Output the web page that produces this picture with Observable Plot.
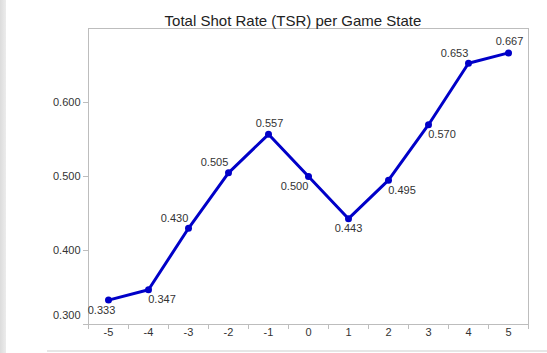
<!DOCTYPE html>
<html>
<head>
<meta charset="utf-8">
<script src="https://cdn.jsdelivr.net/npm/d3@7"></script>
<script src="https://cdn.jsdelivr.net/npm/@observablehq/plot@0.6"></script>
<style>
  html, body { margin: 0; padding: 0; background: #fff; }
  #wrap { position: relative; width: 547px; height: 353px; overflow: hidden; font-family: "Liberation Sans", Arial, sans-serif; }
  #strip { position: absolute; left: 0; top: 0; width: 6px; height: 353px; background: linear-gradient(to right, #dcdcdc, #ececec); }
  #bottomline { position: absolute; left: 47px; top: 350px; width: 500px; height: 2px; background: #e6e6e6; }
  #chart { position: absolute; left: 0; top: 0; }
</style>
</head>
<body>
<div id="wrap"><div id="strip"></div><div id="bottomline"></div><div id="chart"></div></div>
<script>
const title = "Total Shot Rate (TSR) per Game State";
const gameStates = [-5, -4, -3, -2, -1, 0, 1, 2, 3, 4, 5];
const tsr = [0.333, 0.347, 0.430, 0.505, 0.557, 0.500, 0.443, 0.495, 0.570, 0.653, 0.667];
const yTicks = [0.3, 0.4, 0.5, 0.6];
// label placement relative to each point
const labelPlacement = ["bi", "br", "tl", "tl", "t", "bl", "b", "br", "br", "tl", "t"];

const data = gameStates.map((s, i) => ({state: s, tsr: tsr[i], place: labelPlacement[i]}));
const boundaries = [...gameStates.map(s => s - 0.5), gameStates[gameStates.length - 1] + 0.5];

const offsets = {bi: [-7, 10], bl: [-14, 10], br: [13.5, 10], tl: [-14, -10], t: [1, -11], b: [0, 10]};
const lineColor = "#0000c8";
const textColor = "#333";
const gridColor = "#bdbdbd";

const labelMarks = Object.entries(offsets).map(([k, [dx, dy]]) =>
  Plot.text(data, {
    filter: d => d.place === k,
    x: "state", y: "tsr", text: d => d.tsr.toFixed(3),
    dx, dy, fill: textColor, fontSize: 11
  })
);

const chart = Plot.plot({
  width: 547,
  height: 353,
  marginTop: 28,
  marginRight: 19,
  marginBottom: 29,
  marginLeft: 88,
  style: {fontFamily: '"Liberation Sans", Arial, sans-serif', background: "transparent", overflow: "visible"},
  x: {type: "linear", domain: [boundaries[0], boundaries[boundaries.length - 1]], label: null},
  y: {domain: [0.3, 0.7], label: null},
  marks: [
    Plot.frame({stroke: gridColor}),
    Plot.axisX({ticks: boundaries, tickSize: 5, text: null, stroke: gridColor, label: null}),
    Plot.axisX({ticks: gameStates, tickSize: 0, tickPadding: 4, tickFormat: d => String(d), fill: textColor, fontSize: 11, label: null}),
    Plot.axisY({ticks: yTicks, tickSize: 5, text: null, stroke: gridColor, label: null}),
    Plot.axisY({ticks: yTicks.slice(1), tickSize: 0, tickPadding: 8, tickFormat: d3.format(".3f"), fill: textColor, fontSize: 11, label: null}),
    Plot.axisY({ticks: yTicks.slice(0, 1), tickSize: 0, tickPadding: 8, dy: -9, tickFormat: d3.format(".3f"), fill: textColor, fontSize: 11, label: null}),
    Plot.line(data, {x: "state", y: "tsr", stroke: lineColor, strokeWidth: 3, strokeLinejoin: "round"}),
    Plot.dot(data, {x: "state", y: "tsr", r: 3.5, fill: lineColor}),
    ...labelMarks,
    Plot.text([title], {frameAnchor: "top", dx: -15.5, dy: -13, text: d => d, fontSize: 15, fill: "#222"})
  ]
});
document.getElementById("chart").appendChild(chart);
</script>
</body>
</html>
